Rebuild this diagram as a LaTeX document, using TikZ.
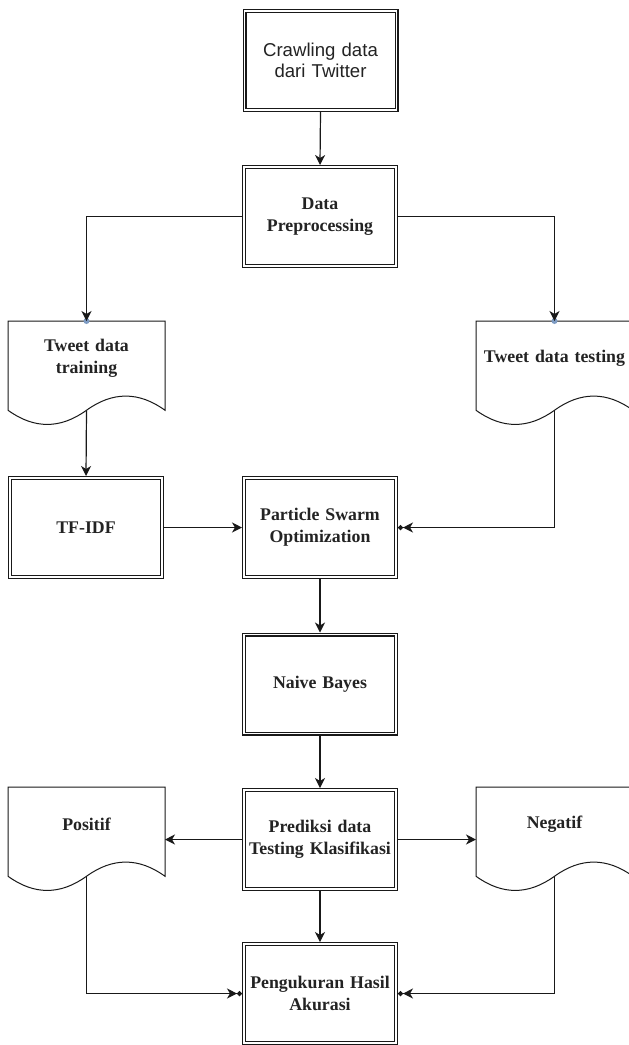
\documentclass[tikz,border=0pt]{standalone}
\usepackage{fontspec}
\setmainfont{Liberation Serif}
\newfontfamily\arialf{Liberation Sans}
\usetikzlibrary{arrows.meta,calc}
\definecolor{lineC}{RGB}{25,25,25}
\definecolor{textC}{RGB}{35,35,35}
\definecolor{dotC}{RGB}{125,155,195}
\tikzset{
  x=1pt,y=-1pt,
  box/.style={draw=lineC,double=white,double distance=1.8pt,line width=1.1pt,
    minimum width=152pt,minimum height=99pt,inner sep=0pt,outer sep=2pt,
    align=center,text width=150pt,text=textC,font=\fontsize{17.8}{22}\selectfont\bfseries},
  doctext/.style={align=center,text width=150pt,inner sep=0pt,text=textC,
    font=\fontsize{17.8}{22}\selectfont\bfseries},
  docline/.style={draw=lineC,line width=1pt,fill=white},
  arr/.style={draw=lineC,line width=1.2pt,-{Stealth[length=10pt,width=10pt,inset=3pt]}},
  arrdot/.style={draw=lineC,line width=1.2pt,-{Stealth[length=10pt,width=10pt,inset=3pt]Circle[length=5pt]}},
  conndot/.style={fill=dotC},
}
\newcommand\docshape[4]{%
  \begin{scope}[shift={(#1,#2)}]
    \path[docline] (0,0) -- (157,0) -- (157,89.25)
      .. controls (130.83,70.35) and (104.67,70.35) .. (78.5,89.25)
      .. controls (52.33,108.15) and (26.17,108.15) .. (0,89.25) -- cycle;
    \node[doctext] (#3) at (78.5,37) {#4};
    \coordinate (#3-top) at (78.5,0);
    \coordinate (#3-bot) at (78.5,89.25);
    \coordinate (#3-l) at (0,52.5);
    \coordinate (#3-r) at (157,52.5);
  \end{scope}}
\begin{document}
\begin{tikzpicture}
\useasboundingbox[fill=white] (0,0) rectangle (629,1045);
% boxes
\node[box,font=\fontsize{18.6}{21.5}\selectfont\arialf] (crawl) at (320.5,60.5) {Crawling data\\dari Twitter};
\node[box] (prep) at (320,216.5) {Data\\Preprocessing};
\node[box] (tfidf) at (86,527.5) {TF-IDF};
\node[box] (pso) at (320,527.5) {Particle Swarm\\Optimization};
\node[box] (nb) at (320,684) {Naive Bayes};
\node[box] (pred) at (320,839.5) {Prediksi data\\Testing Klasifikasi};
\node[box] (peng) at (320,993.5) {Pengukuran Hasil\\Akurasi};
% documents
\docshape{8}{321}{train}{Tweet data\\training}
\docshape{476}{321}{test}{Tweet data testing}
\docshape{8}{787}{pos}{Positif}
\docshape{476}{787}{neg}{Negatif}
% connectors
\draw[arr] (crawl.south) -- (prep.north);
\fill[conndot] (train-top) circle (3);
\fill[conndot] (test-top) circle (3);
\draw[arr] (prep.west) -| (train-top);
\draw[arr] (prep.east) -| (test-top);
\draw[arr] (train-bot) -- (tfidf.north);
\draw[arr] (tfidf.east) -- (pso.west);
\draw[arrdot] (test-bot) |- (pso.east);
\draw[arr] (pso.south) -- (nb.north);
\draw[arr] (nb.south) -- (pred.north);
\draw[arr] (pred.west) -- (pred.west -| pos-r);
\draw[arr] (pred.east) -- (pred.east -| neg-l);
\draw[arr] (pred.south) -- (peng.north);
\draw[arrdot] (pos-bot) |- (peng.west);
\draw[arrdot] (neg-bot) |- (peng.east);
\end{tikzpicture}
\end{document}
